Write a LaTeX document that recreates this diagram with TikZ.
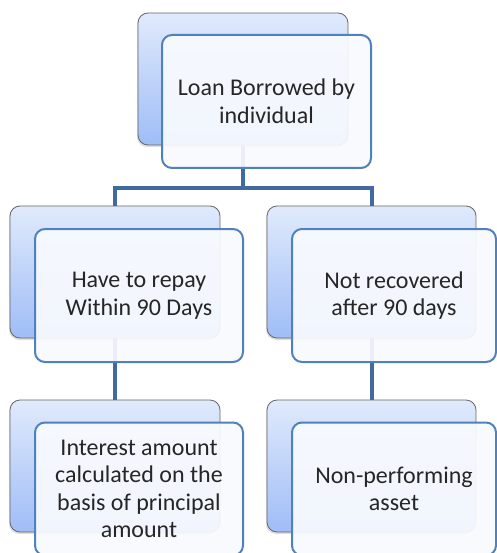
\documentclass[tikz,border=0pt]{standalone}
\usepackage{fontspec}
\setmainfont{Carlito}
\usetikzlibrary{shadows,backgrounds}
\definecolor{backtop}{HTML}{E0EAFC}
\definecolor{backbot}{HTML}{9FBDF7}
\definecolor{frontline}{HTML}{4F81BD}
\definecolor{frontfill}{HTML}{F8FAFE}
\definecolor{connline}{HTML}{3F6B9F}
\tikzset{
  backbox/.style={draw=gray!80!black, line width=0.8pt, rounded corners=10pt,
    minimum width=210pt, minimum height=132pt, inner sep=0pt,
    top color=backtop, bottom color=backbot,
    drop shadow={shadow xshift=-1pt, shadow yshift=-2pt, opacity=0.25}},
  frontbox/.style={draw=frontline, line width=2pt, rounded corners=10pt,
    minimum width=208pt, minimum height=133pt, inner sep=0pt,
    fill=frontfill, fill opacity=0.93, text opacity=1, align=center,
    font=\fontsize{24}{27.5}\selectfont, text=black!85},
  conn/.style={draw=connline, line width=4pt}
}
\begin{document}
\begin{tikzpicture}[x=1pt, y=-1pt]
  \useasboundingbox (0,0) rectangle (496,553);

  % Les cadres du fond
  \node[backbox] (loanB) at (243,79) {};
  \node[backbox] (repayB) at (115,272) {};
  \node[backbox, minimum width=209pt] (notrecB) at (371.5,272) {};
  \node[backbox] (interestB) at (115,466) {};
  \node[backbox, minimum width=209pt] (npaB) at (371.5,466) {};

  % Les cadres avec texte
  \node[frontbox, minimum width=209pt] (loanF) at (266.5,101.5) {Loan Borrowed by\\individual};
  \node[frontbox] (repayF) at (139,295.5) {Have to repay\\Within 90 Days};
  \node[frontbox, minimum width=204pt] (notrecF) at (394,295.5) {Not recovered\\after 90 days};
  \node[frontbox] (interestF) at (139,489) {Interest amount\\calculated on the\\basis of principal\\amount};
  \node[frontbox, minimum width=204pt] (npaF) at (394,489) {Non-performing\\asset};

  % Les liaisons
  \begin{scope}[on background layer]
    \coordinate (bus) at (243,188);
    \draw[conn] (loanB.center) -- (bus);
    \draw[conn] (repayB.center) |- (bus) -| (notrecB.center);
    \draw[conn] (repayB.center) -- (interestB.center);
    \draw[conn] (notrecB.center) -- (npaB.center);
  \end{scope}

\end{tikzpicture}
\end{document}
